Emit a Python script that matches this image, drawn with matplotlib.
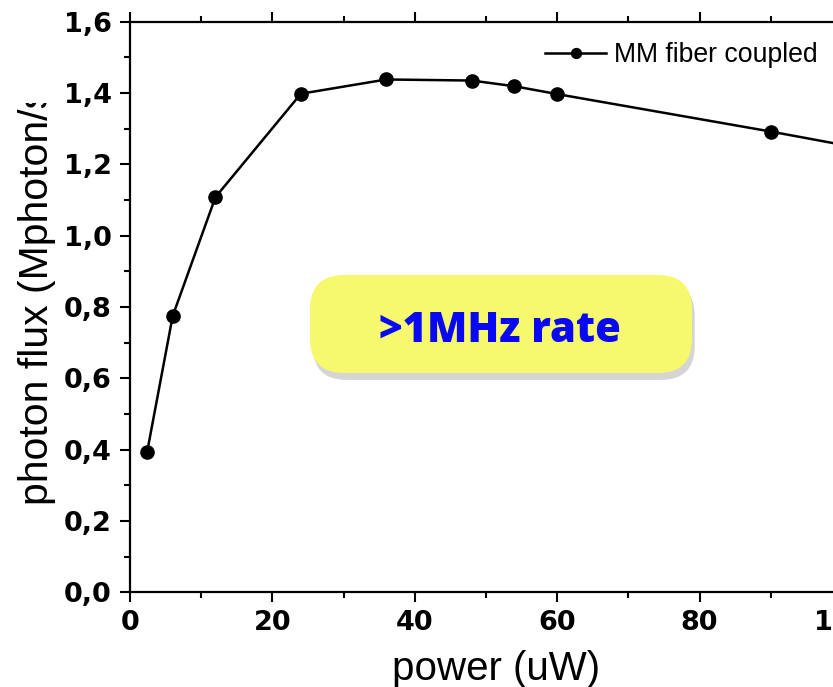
import matplotlib
matplotlib.use("Agg")
import matplotlib.pyplot as plt
from matplotlib.patches import FancyBboxPatch, Rectangle
from matplotlib.ticker import MultipleLocator, FuncFormatter
import matplotlib.patheffects as pe

# power (uW) vs photon flux (Mphoton/s)
power = [2.4, 6, 12, 24, 36, 48, 54, 60, 90, 100]
flux = [0.393, 0.775, 1.108, 1.398, 1.438, 1.435, 1.419, 1.397, 1.292, 1.255]

series_label = "MM fiber coupled"
xlabel = "power (uW)"
ylabel = "photon flux (Mphoton/s)"
note = ">1MHz rate"

W, H = 833, 687
fig = plt.figure(figsize=(W / 100, H / 100), dpi=100)

# axes run past the right edge of the image, like the cropped slide
ax = fig.add_axes([130 / W, (H - 592.3) / H, 712 / W, (592.3 - 21.7) / H])
ax.plot(power, flux, color="black", lw=1.8, marker="o", ms=9.5, label=series_label)

ax.set_xlim(0, 100)
ax.set_ylim(0, 1.6)
ax.xaxis.set_major_locator(MultipleLocator(20))
ax.xaxis.set_minor_locator(MultipleLocator(10))
ax.yaxis.set_major_locator(MultipleLocator(0.2))
ax.yaxis.set_minor_locator(MultipleLocator(0.1))
ax.yaxis.set_major_formatter(FuncFormatter(lambda v, p: f"{v:.1f}".replace(".", ",")))

for s in ax.spines.values():
    s.set_linewidth(1.6)
ax.tick_params(which="both", direction="out", top=True, width=1.5)
ax.tick_params(which="major", length=7, pad=6)
ax.tick_params(which="minor", length=4)
for lab in ax.get_xticklabels() + ax.get_yticklabels():
    lab.set_fontfamily("DejaVu Sans")
    lab.set_fontweight("bold")
    lab.set_fontsize(19.5)

# axis labels
fig.text(496 / W, 7 / H, xlabel, ha="center", va="baseline",
         fontsize=29, family="Liberation Sans")
fig.text(37 / W, (H - 505) / H, ylabel, ha="center", va="bottom", rotation=90,
         fontsize=29.5, family="Liberation Sans")
# top of the y label is hidden in the source image
fig.add_artist(Rectangle((0, (H - 103) / H), 62 / W, 103 / H,
                         transform=fig.transFigure, facecolor="white",
                         edgecolor="none", zorder=10))

leg = ax.legend(loc="center left", bbox_to_anchor=(545 / W, (H - 55) / H),
                bbox_transform=fig.transFigure, frameon=False, borderpad=0,
                borderaxespad=0, handlelength=2.3, handletextpad=0.3,
                markerscale=0.75, prop={"family": "Liberation Sans", "size": 19.2})

# yellow callout
box = FancyBboxPatch((310 / 100, (H - 373) / 100), 382 / 100, 98 / 100,
                     boxstyle="round,pad=0,rounding_size=0.34",
                     transform=fig.dpi_scale_trans, facecolor="#f6f96e",
                     edgecolor="none", zorder=6,
                     path_effects=[pe.SimplePatchShadow(offset=(2, -5), shadow_rgbFace="#888888", alpha=0.35),
                                   pe.Normal()])
fig.add_artist(box)
fig.text(500 / W, (H - 331) / H, note, ha="center", va="center", color="#0808f2",
         fontsize=30, fontweight=800, family="Open Sans", zorder=7)

fig.savefig("out.png", dpi=100)
